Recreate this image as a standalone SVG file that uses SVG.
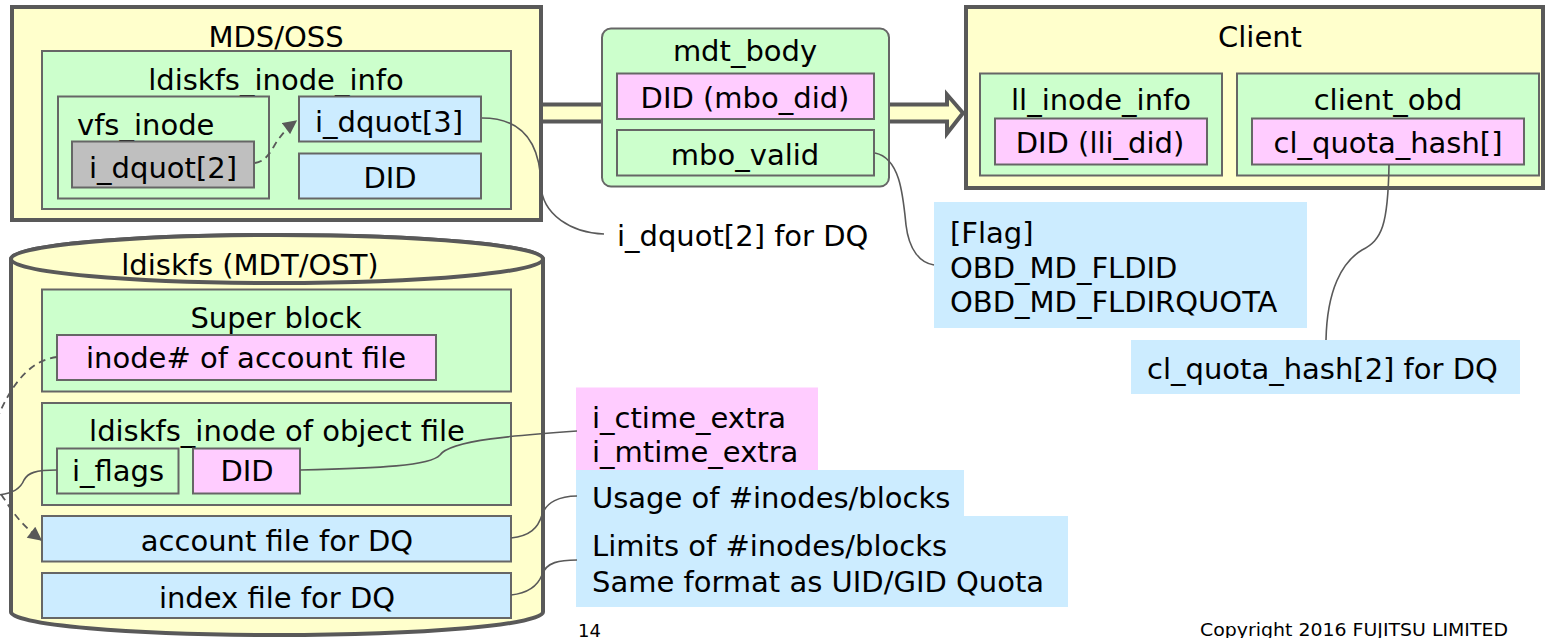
<svg xmlns="http://www.w3.org/2000/svg" width="1549" height="638" viewBox="0 0 1549 638">
  <defs>
    <style>
      text { font-family: "DejaVu Sans", Verdana, sans-serif; font-size: 29px; fill: #000; }
      .c { text-anchor: middle; }
      .small { font-size: 18px; }
      .outer { fill: #FFFFCC; stroke: #595959; stroke-width: 4; }
      .green { fill: #CCFFCC; stroke: #666; stroke-width: 2; }
      .blue { fill: #CCECFF; stroke: #666; stroke-width: 2; }
      .pink { fill: #FFCCFF; stroke: #666; stroke-width: 2; }
      .gray { fill: #BFBFBF; stroke: #666; stroke-width: 2; }
      .note-blue { fill: #CCECFF; }
      .note-pink { fill: #FFCCFF; }
      .link { fill: none; stroke: #595959; stroke-width: 1.6; }
      .dash { fill: none; stroke: #595959; stroke-width: 1.8; stroke-dasharray: 7 5; }
    </style>
    <marker id="tri" viewBox="0 0 10 10" refX="9" refY="5" markerWidth="15" markerHeight="14" markerUnits="userSpaceOnUse" orient="auto">
      <path d="M0,0 L10,5 L0,10 z" fill="#595959"/>
    </marker>
  </defs>

  <!-- transfer arrow MDS/OSS -> Client -->
  <g id="transfer-arrow">
    <polygon points="540,104.5 947,104.5 947,94.5 963,113 947,133.5 947,121.5 540,121.5" fill="#FFFFCC" stroke="#595959" stroke-width="4" stroke-linejoin="miter"/>
  </g>

  <!-- MDS/OSS -->
  <g id="mds-oss">
    <rect class="outer" x="12" y="7" width="529" height="213"/>
    <text class="c" x="276" y="46.5">MDS/OSS</text>
    <g id="ldiskfs-inode-info">
      <rect class="green" x="42" y="51" width="469" height="158"/>
      <text class="c" x="276" y="90">ldiskfs_inode_info</text>
    </g>
    <g id="vfs-inode">
      <rect class="green" x="58" y="96.5" width="211" height="102"/>
      <text x="77" y="135">vfs_inode</text>
    </g>
    <g id="vfs-i-dquot">
      <rect class="gray" x="72" y="141.5" width="182" height="46"/>
      <text class="c" x="163" y="178">i_dquot[2]</text>
    </g>
    <g id="i-dquot3">
      <rect class="blue" x="299" y="96.5" width="182" height="45"/>
      <text class="c" x="389" y="132">i_dquot[3]</text>
    </g>
    <g id="mds-did">
      <rect class="blue" x="299" y="153.5" width="182" height="45"/>
      <text class="c" x="390" y="188">DID</text>
    </g>
  </g>

  <!-- mdt_body -->
  <g id="mdt-body">
    <rect class="green" x="602" y="28.5" width="287" height="158" rx="9"/>
    <text class="c" x="745" y="61">mdt_body</text>
    <g id="mbo-did">
      <rect class="pink" x="617" y="73.5" width="257" height="45.5"/>
      <text class="c" x="745" y="108">DID (mbo_did)</text>
    </g>
    <g id="mbo-valid">
      <rect class="green" x="617" y="130" width="257" height="45.5"/>
      <text class="c" x="745" y="165">mbo_valid</text>
    </g>
  </g>

  <!-- Client -->
  <g id="client">
    <rect class="outer" x="966" y="7" width="577" height="181"/>
    <text class="c" x="1260" y="47">Client</text>
    <g id="ll-inode-info">
      <rect class="green" x="980" y="73.5" width="242" height="102"/>
      <text class="c" x="1101" y="110">ll_inode_info</text>
    </g>
    <g id="lli-did">
      <rect class="pink" x="995" y="118.5" width="212" height="46"/>
      <text class="c" x="1100" y="153">DID (lli_did)</text>
    </g>
    <g id="client-obd">
      <rect class="green" x="1237" y="73.5" width="302" height="102"/>
      <text class="c" x="1388" y="110">client_obd</text>
    </g>
    <g id="cl-quota-hash">
      <rect class="pink" x="1252" y="118.5" width="272" height="46"/>
      <text class="c" x="1388" y="153">cl_quota_hash[]</text>
    </g>
  </g>

  <!-- ldiskfs (MDT/OST) cylinder -->
  <g id="ldiskfs">
    <path class="outer" d="M11,259 A266,24 0 0 1 543,259 L543,612 A266,23 0 0 1 11,612 Z"/>
    <ellipse class="outer" cx="277" cy="259" rx="266" ry="24"/>
    <text class="c" x="250" y="275">ldiskfs (MDT/OST)</text>
    <g id="super-block">
      <rect class="green" x="42" y="289.5" width="469" height="102"/>
      <text class="c" x="276" y="328">Super block</text>
    </g>
    <g id="account-inode">
      <rect class="pink" x="57" y="335" width="379" height="45"/>
      <text x="86" y="368">inode# of account file</text>
    </g>
    <g id="object-inode">
      <rect class="green" x="42" y="403" width="469" height="102"/>
      <text class="c" x="277" y="441">ldiskfs_inode of object file</text>
    </g>
    <g id="i-flags">
      <rect class="green" x="57" y="448.5" width="121.5" height="45"/>
      <text class="c" x="118" y="481">i_flags</text>
    </g>
    <g id="object-did">
      <rect class="pink" x="193" y="448.5" width="107" height="45"/>
      <text class="c" x="247" y="481">DID</text>
    </g>
    <g id="account-file">
      <rect class="blue" x="42" y="516" width="469" height="45.5"/>
      <text class="c" x="277" y="551">account file for DQ</text>
    </g>
    <g id="index-file">
      <rect class="blue" x="42" y="573" width="469" height="45"/>
      <text class="c" x="277" y="608">index file for DQ</text>
    </g>
  </g>

  <!-- notes -->
  <g id="note-i-dquot">
    <text x="617" y="246">i_dquot[2] for DQ</text>
  </g>
  <g id="note-flag">
    <rect class="note-blue" x="934" y="202" width="373" height="126"/>
    <text x="950" y="243">[Flag]</text>
    <text x="950" y="277.5">OBD_MD_FLDID</text>
    <text x="950" y="311.5">OBD_MD_FLDIRQUOTA</text>
  </g>
  <g id="note-cl-quota">
    <rect class="note-blue" x="1131" y="340" width="389" height="54"/>
    <text x="1147" y="379">cl_quota_hash[2] for DQ</text>
  </g>
  <g id="note-time">
    <rect class="note-pink" x="576" y="387.5" width="242" height="90"/>
    <text x="592" y="428">i_ctime_extra</text>
    <text x="592" y="461.5">i_mtime_extra</text>
  </g>
  <g id="note-usage">
    <rect class="note-blue" x="576" y="470" width="388" height="47"/>
    <text x="592" y="508">Usage of #inodes/blocks</text>
  </g>
  <g id="note-limits">
    <rect class="note-blue" x="576" y="516" width="492" height="91"/>
    <text x="592" y="556">Limits of #inodes/blocks</text>
    <text x="592" y="592">Same format as UID/GID Quota</text>
  </g>

  <!-- connectors -->
  <g id="connectors">
    <path class="dash" d="M255,163 C268,161 272,148 278,140 C283,133 288,127 296,121" marker-end="url(#tri)"/>
    <path class="dash" d="M57,357 C30,360 12,385 0,412 C-12,440 -12,478 5,500 C15,517 28,530 41,540" marker-end="url(#tri)"/>
    <path class="link" d="M482,118 C520,118 540,140 541,185 C542,215 572,233 604,234"/>
    <path class="link" d="M875,153 C900,158 903,195 906,225 C909,250 920,263 934,265"/>
    <path class="link" d="M1389,165 C1388,225 1382,240 1362,250 C1342,262 1327,290 1326,340"/>
    <path class="link" d="M57,470 C35,470 28,473 24,480 C20,490 10,494 -2,495"/>
    <path class="link" d="M300,470 C380,468 430,466 440,455 C450,440 520,435 577,431"/>
    <path class="link" d="M511,538 C530,536 538,528 542,515 C546,502 560,496 577,496"/>
    <path class="link" d="M511,595 C530,593 538,585 542,575 C546,562 560,560 577,560"/>
  </g>

  <!-- footer -->
  <g id="footer">
    <text class="small" x="578" y="637">14</text>
    <text class="small" x="1200" y="636" textLength="308" lengthAdjust="spacingAndGlyphs">Copyright 2016 FUJITSU LIMITED</text>
  </g>
</svg>
